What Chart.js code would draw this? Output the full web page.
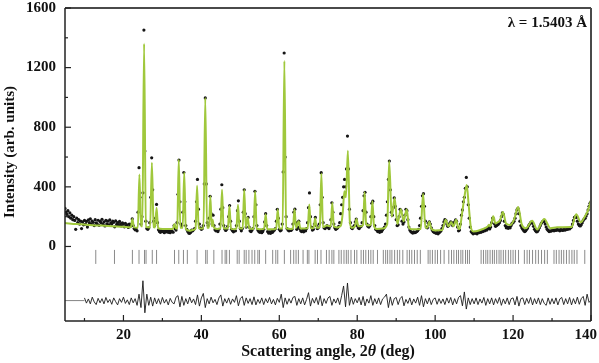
<!DOCTYPE html>
<html>
<head>
<meta charset="utf-8">
<script src="https://cdn.jsdelivr.net/npm/chart.js@4.4.1/dist/chart.umd.min.js"></script>
<style>
  html, body { margin: 0; padding: 0; background: #fff; }
  canvas { display: block; }
</style>
</head>
<body>
<canvas id="rietveld" width="599" height="363"></canvas>
<script>
// observed pattern, step scan from 5 deg in 0.25 deg steps
const obsStart = 5;
const obsStep = 0.25;
const obsCounts = [
  255,230,215,240,200,225,190,210,180,200,175,115,190,160,180,150,170,120,165,145,   // 5
  175,150,168,130,178,160,185,150,170,162,140,180,158,152,176,142,168,160,182,148,   // 10
  165,138,175,152,170,145,178,158,150,170,162,132,172,148,160,142,168,152,138,158,   // 15
  150,132,155,138,145,128,150,135,150,185,140,120,112,118,105,230,529,330,150,200,   // 20
  360,1452,640,170,120,115,125,160,330,595,380,170,140,190,282,160,112,100,95,108,   // 25
  100,110,92,105,98,112,95,104,92,108,100,96,140,120,110,160,350,580,300,150,        // 30
  140,230,496,300,140,115,100,90,88,95,110,105,112,120,170,300,450,250,150,125,      // 35
  115,120,140,420,997,420,160,140,190,337,220,150,210,140,112,105,110,100,115,150,   // 40
  250,414,260,140,118,108,115,135,200,275,170,115,105,98,110,105,140,240,306,170,    // 45
  120,105,120,230,380,220,130,170,195,130,105,100,110,120,200,370,280,140,110,100,   // 50
  95,105,92,100,115,165,220,140,100,90,98,88,100,95,105,110,120,170,249,190,         // 55
  115,105,110,150,500,1298,600,200,120,110,105,112,108,115,150,230,250,160,115,130,  // 60
  170,120,105,100,108,98,110,105,120,160,260,359,200,130,110,115,150,195,140,120,    // 65
  125,150,280,495,330,160,125,120,130,140,128,120,135,180,293,230,150,125,115,120,   // 70
  125,135,160,220,280,330,400,450,400,520,741,520,250,160,125,120,130,140,165,184,   // 75
  140,125,120,130,135,160,240,340,363,230,150,135,130,140,200,290,304,200,140,115,   // 80
  110,100,105,95,108,100,112,120,130,150,210,300,450,573,380,230,210,260,326,270,    // 85
  180,140,145,200,249,240,170,150,165,210,249,240,180,130,110,100,95,90,98,92,       // 90
  95,100,105,115,140,190,270,340,354,270,170,130,125,155,166,150,125,110,100,95,     // 95
  92,88,95,85,92,98,105,120,140,165,180,175,150,135,140,155,165,160,140,150,         // 100
  165,178,170,130,105,110,150,210,245,300,330,390,463,400,280,190,130,100,92,85,     // 105
  95,88,95,85,98,92,100,95,105,100,112,105,118,110,120,130,118,130,160,190,          // 110
  185,150,135,140,145,150,160,175,200,225,215,170,140,125,130,122,128,125,140,155,   // 115
  160,170,190,220,245,255,220,170,140,125,115,105,100,105,115,125,140,150,160,165,   // 120
  155,135,115,105,98,100,110,125,140,155,165,170,168,150,130,115,108,100,105,102,    // 125
  108,110,105,112,108,115,110,112,105,115,110,108,116,110,112,118,115,120,118,125,   // 130
  130,150,175,195,200,195,170,150,140,138,145,160,175,185,190,205,220,245,270,290,300 // 135
];

// calculated profile, read as vertices along the green curve
const calcAngle = [
  5,8,12,16,20,21.9,22.3,22.7,23.7,24.1,24.5,24.85,25.3,25.75,26.85,27.3,27.75,28.1,28.5,28.9,
  30,32.7,33.1,33.5,33.8,34.2,34.6,35.2,35.6,36.0,37,38,38.5,38.9,39.3,40.55,41.0,41.45,41.95,42.3,
  42.65,42.9,43.2,44,44.9,45.3,45.7,46.5,46.8,47.2,47.6,48.6,49.0,49.4,49.8,50.6,51.0,51.4,51.9,52.3,
  53.4,53.8,54.2,55,56.1,56.5,56.9,58,59.2,59.6,60.0,60.85,61.3,61.75,63,63.5,63.9,64.3,65.0,65.4,
  67.3,67.7,68.1,68.8,69.2,69.6,70.4,70.8,71.2,72.2,73.2,73.6,74.0,74.8,75.8,76.3,76.7,77.1,77.6,78.1,
  78.6,79.4,79.8,80.3,81.0,81.5,81.9,82.3,83.0,83.5,83.9,84.3,85,86.5,87.7,88.2,88.85,89.6,90.3,91.2,
  91.9,92.7,93.3,94,96.3,96.9,97.5,98.0,98.5,99.0,100,101.8,102.7,103.4,104.1,104.7,105.4,106.0,106.3,106.9,
  107.5,108.1,108.6,109.1,109.8,110.5,111.9,113.4,113.8,114.2,114.9,115.5,116.0,116.6,117.4,118.2,119.3,120.3,121.3,122.2,
  123.3,124.9,126.2,128.0,129.6,131.3,135.0,136.2,137.4,138.4,139.2,140
];
const calcCounts = [
  157,150,143,138,132,129,184,128,126,483,135,135,1360,130,128,562,130,128,260,122,
  118,118,150,120,122,584,125,125,496,118,105,112,120,407,122,120,997,125,125,337,
  135,180,128,118,122,380,122,120,120,271,118,116,125,280,122,120,380,128,195,120,
  118,370,120,116,118,216,116,115,120,249,120,120,1244,122,118,120,250,125,170,120,
  122,282,122,125,190,125,130,490,130,140,135,293,135,128,140,230,370,330,643,170,
  125,135,184,135,135,145,363,150,140,150,304,140,118,120,150,573,200,326,150,249,
  170,249,125,115,118,354,125,128,166,120,108,110,180,135,165,135,180,118,120,220,
  330,413,280,140,101,102,114,132,145,135,202,154,162,173,232,154,144,184,265,150,
  122,173,114,184,122,129,130,216,162,200,240,310
];

// difference curve (obs - calc, offset), from 10 deg in 0.5 deg steps
const diffStart = 10;
const diffStep = 0.5;
const diffCounts = [
  -345,-380,-352,-385,-340,-372,-390,-348,-378,-350,
  -385,-342,-376,-355,-388,-345,-370,-392,-350,-375,
  -340,-382,-358,-390,-345,-378,-350,-395,-320,-410,
  -230,-445,-320,-395,-340,-400,-345,-385,-350,-388,
  -342,-380,-355,-392,-348,-375,-385,-340,-330,-405,
  -335,-395,-350,-385,-340,-378,-352,-390,-325,-400,
  -345,-315,-410,-350,-385,-340,-378,-355,-390,-345,
  -325,-400,-350,-380,-345,-388,-352,-375,-330,-398,
  -350,-335,-395,-345,-382,-350,-390,-338,-392,-355,
  -382,-345,-390,-350,-378,-342,-385,-355,-392,-348,
  -375,-320,-410,-345,-388,-350,-380,-342,-335,-395,
  -350,-385,-345,-392,-355,-310,-400,-348,-380,-342,
  -390,-330,-398,-350,-382,-345,-335,-395,-352,-380,
  -345,-390,-330,-265,-405,-245,-395,-340,-388,-350,
  -378,-342,-392,-335,-398,-352,-380,-330,-395,-350,
  -385,-345,-390,-352,-340,-320,-410,-338,-395,-350,
  -342,-390,-350,-335,-398,-355,-382,-345,-392,-352,
  -380,-340,-395,-330,-405,-350,-385,-345,-390,-355,
  -345,-388,-350,-382,-352,-390,-345,-380,-342,-392,
  -350,-385,-342,-330,-398,-305,-420,-345,-390,-350,
  -385,-345,-390,-352,-380,-342,-395,-350,-385,-345,
  -392,-350,-382,-342,-395,-352,-385,-345,-390,-350,
  -345,-392,-335,-400,-350,-345,-390,-348,-382,-342,
  -392,-350,-385,-345,-390,-350,-382,-395,-345,-388,
  -350,-385,-345,-392,-352,-342,-390,-350,-385,-342,
  -392,-350,-385,-340,-388,-350,-335,-395,-320,-375,
  -360
];
// flat part of the difference trace below the refined range
const diffLeadAngle = [5, 10];
const diffLeadCounts = [-363, -363];

// Bragg reflection positions
const braggAngle = [
  12.9,17.7,22.3,24.0,25.4,25.8,27.4,28.5,33.1,34.2,35.4,36.4,38.9,41.1,41.5,43.2,45.3,46.1,46.5,47.2,
  49.2,49.7,51.0,51.5,52.2,53.0,53.7,54.5,54.9,56.5,58.3,59.1,59.6,61.3,62.9,63.7,64.3,64.9,66.1,67.2,
  67.6,69.2,69.8,70.7,72.1,72.8,73.5,74.0,75.3,75.9,76.6,77.2,77.7,78.4,79.3,79.9,81.0,81.6,82.2,82.9,
  83.5,84.1,85.2,86.7,87.3,87.8,88.4,88.9,89.6,90.3,90.9,91.7,92.8,93.4,94.0,94.7,95.4,96.2,98.2,98.7,
  99.3,100.0,100.6,101.4,102.3,103.5,104.2,104.8,105.5,106.0,106.6,107.1,107.8,108.3,108.8,111.8,112.4,113.0,113.5,114.1,
  114.7,115.2,115.8,116.4,116.9,117.5,118.1,118.8,119.4,120.0,120.6,121.4,122.9,123.6,124.2,125.0,125.8,126.5,127.3,128.1,
  128.8,130.5,131.1,131.8,132.4,133.0,133.7,134.4,135.1,135.7,136.4,138.4
];
const braggLevel = -70;

const FONT = '"Liberation Serif", "Times New Roman", serif';

const obsPoints = obsCounts.map((c, i) => ({ x: obsStart + i * obsStep, y: c }));
const calcPoints = calcAngle.map((a, i) => ({ x: a, y: calcCounts[i] }));
const diffPoints = diffCounts.map((c, i) => ({ x: diffStart + i * diffStep, y: c }));
const diffLeadPoints = diffLeadAngle.map((a, i) => ({ x: a, y: diffLeadCounts[i] }));
const braggPoints = braggAngle.map(a => ({ x: a, y: braggLevel }));

// frame, inward ticks, tick labels and titles drawn by hand
const framePlugin = {
  id: 'framePlugin',
  afterDraw(chart) {
    const { ctx, chartArea: a, scales: { x, y } } = chart;
    ctx.save();

    const seg = (x1, y1, x2, y2) => { ctx.beginPath(); ctx.moveTo(x1, y1); ctx.lineTo(x2, y2); ctx.stroke(); };

    // border
    ctx.strokeStyle = '#4a4a4a';
    ctx.lineWidth = 2;
    seg(a.left, a.top, a.right, a.top);
    seg(a.right, a.top, a.right, a.bottom);
    ctx.strokeStyle = '#222';
    ctx.lineWidth = 1.5;
    seg(a.left, a.top, a.left, a.bottom);
    seg(a.left, a.bottom, a.right, a.bottom);

    ctx.lineWidth = 1.2;
    ctx.fillStyle = '#111';

    // y ticks
    ctx.font = 'bold 15px ' + FONT;
    ctx.textAlign = 'right';
    ctx.textBaseline = 'middle';
    y.ticks.forEach(t => {
      const v = t.value;
      if (v < 0 || v % 200 !== 0) return;
      const py = y.getPixelForValue(v);
      const major = v % 400 === 0;
      seg(a.left, py, a.left + (major ? 6 : 3), py);
      if (major) ctx.fillText(String(v), 56, Math.max(py, 8));
    });

    // x ticks
    ctx.font = 'bold 15px ' + FONT;
    ctx.textAlign = 'center';
    ctx.textBaseline = 'middle';
    x.ticks.forEach(t => {
      const v = t.value;
      if (v % 10 !== 0) return;
      const px = x.getPixelForValue(v);
      const major = v % 20 === 0;
      seg(px, a.bottom, px, a.bottom - (major ? 6 : 3));
      if (major) {
        const label = String(v);
        const w = ctx.measureText(label).width;
        const cx = Math.min(px, 597 - w / 2);
        ctx.fillText(label, cx, 335);
      }
    });

    // x title with italic theta
    const parts = [
      { t: 'Scattering angle, 2', f: 'bold 16px ' + FONT },
      { t: '\u03B8', f: 'italic bold 16px ' + FONT },
      { t: ' (deg)', f: 'bold 16px ' + FONT }
    ];
    let total = 0;
    parts.forEach(p => { ctx.font = p.f; p.w = ctx.measureText(p.t).width; total += p.w; });
    let cx = (a.left + a.right) / 2 - total / 2;
    ctx.textAlign = 'left';
    ctx.textBaseline = 'alphabetic';
    parts.forEach(p => { ctx.font = p.f; ctx.fillText(p.t, cx, 356); cx += p.w; });

    // y title
    ctx.save();
    ctx.translate(10, 152);
    ctx.rotate(-Math.PI / 2);
    ctx.font = 'bold 15px ' + FONT;
    ctx.textAlign = 'center';
    ctx.textBaseline = 'middle';
    ctx.fillText('Intensity (arb. units)', 0, 0);
    ctx.restore();

    // wavelength note
    ctx.font = 'bold 15px ' + FONT;
    ctx.textAlign = 'right';
    ctx.textBaseline = 'middle';
    ctx.fillText('\u03BB = 1.5403 \u00C5', 587, 23);

    ctx.restore();
  }
};

new Chart(document.getElementById('rietveld'), {
  type: 'scatter',
  data: {
    datasets: [
      {
        label: 'Calculated',
        data: calcPoints,
        showLine: true,
        borderColor: '#a0c83c',
        borderWidth: 2,
        pointRadius: 0,
        cubicInterpolationMode: 'monotone'
      },
      {
        label: 'Observed',
        data: obsPoints,
        pointRadius: 1.6,
        pointBorderWidth: 0,
        backgroundColor: '#151515',
        borderColor: '#151515'
      },
      {
        label: 'Bragg positions',
        data: braggPoints,
        pointStyle: 'line',
        pointRotation: 90,
        pointRadius: 7,
        borderColor: '#8a8a8a',
        pointBorderWidth: 1
      },
      {
        label: 'Difference',
        data: diffPoints,
        showLine: true,
        borderColor: '#1a1a1a',
        borderWidth: 0.9,
        pointRadius: 0
      },
      {
        label: 'Difference (excluded)',
        data: diffLeadPoints,
        showLine: true,
        borderColor: '#666',
        borderWidth: 0.8,
        pointRadius: 0
      }
    ]
  },
  options: {
    responsive: false,
    animation: false,
    devicePixelRatio: 1,
    layout: { padding: { top: 1, right: 1, left: 0, bottom: 0 } },
    plugins: { legend: { display: false }, tooltip: { enabled: false } },
    scales: {
      x: {
        type: 'linear',
        min: 5,
        max: 140,
        ticks: { stepSize: 10, display: false },
        grid: { display: false },
        border: { display: false },
        afterFit: s => { s.height = 42; }
      },
      y: {
        min: -500,
        max: 1600,
        ticks: { stepSize: 200, display: false },
        grid: { display: false },
        border: { display: false },
        afterFit: s => { s.width = 65; }
      }
    }
  },
  plugins: [framePlugin]
});
</script>
</body>
</html>
